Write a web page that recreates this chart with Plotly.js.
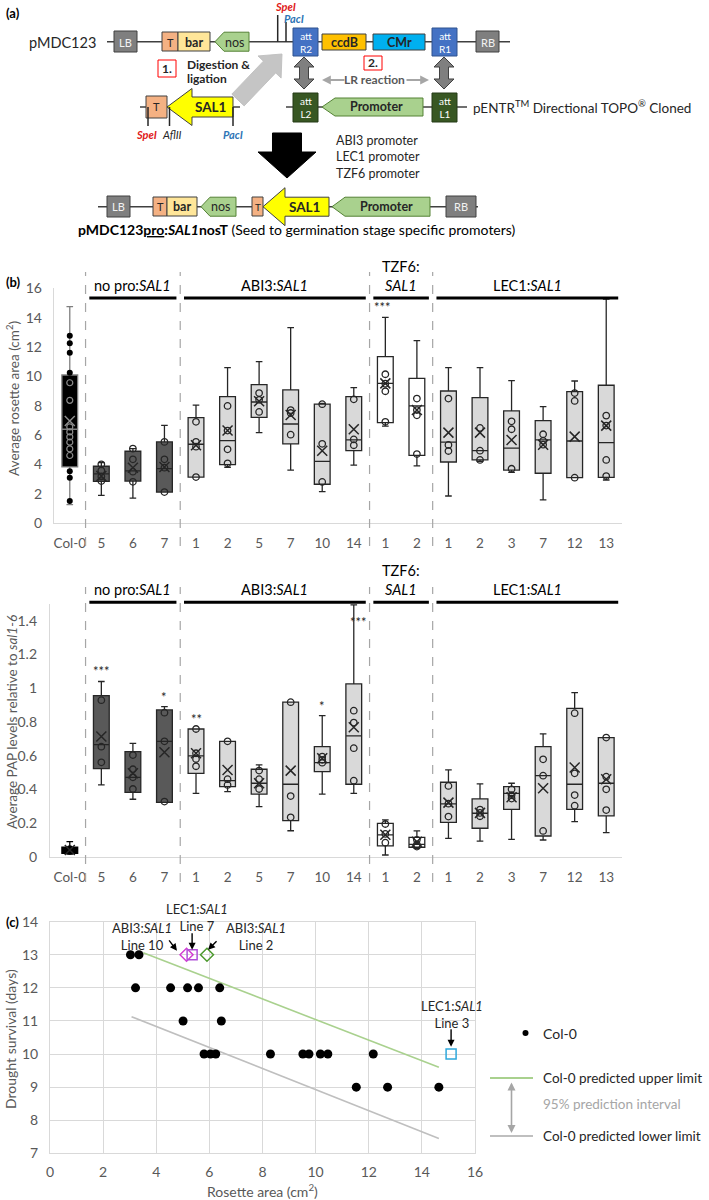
<!DOCTYPE html>
<html>
<head>
<meta charset="utf-8">
<script src="https://cdn.plot.ly/plotly-3.0.1.min.js"></script>
<style>
  body { margin: 0; background: #fff; }
  #chart { width: 709px; height: 1200px; }
</style>
</head>
<body>
<div id="chart"></div>
<script>
// ---- (b) box panels: one box per transgenic line ----
var cats  = ['Col-0', '5', '6', '7', '1', '2', '5', '7', '10', '14', '1', '2', '1', '2', '3', '7', '12', '13'];
var group = [0, 1, 1, 1, 2, 2, 2, 2, 2, 2, 3, 3, 4, 4, 4, 4, 4, 4];
var groupNames = ['', 'no pro:<i>SAL1</i>', 'ABI3:<i>SAL1</i>', 'TZF6:<br><i>SAL1</i>', 'LEC1:<i>SAL1</i>'];

// rosette area (cm2)
var areaLo   = [1.25, 1.88, 1.69, 2.11, 3.13, 3.80, 6.16, 3.61, 2.14, 3.95, 6.61, 3.89, 1.84, 4.20, 3.45, 1.57, 3.09, 2.93];
var areaQ1   = [3.82, 2.84, 2.86, 2.11, 3.13, 3.98, 7.20, 5.39, 2.64, 4.93, 6.84, 4.61, 4.16, 4.30, 3.61, 3.39, 3.09, 3.11];
var areaMed  = [6.39, 3.35, 3.55, 3.71, 5.37, 5.61, 8.25, 6.75, 4.20, 5.66, 9.52, 7.98, 5.52, 4.93, 5.11, 5.66, 5.59, 5.48];
var areaQ3   = [10.09, 3.87, 4.89, 5.53, 7.19, 8.61, 9.43, 9.07, 8.11, 8.61, 11.34, 9.86, 9.00, 8.55, 7.64, 6.98, 8.95, 9.39];
var areaHi   = [14.75, 4.12, 5.07, 6.66, 8.04, 10.59, 11.00, 13.32, 8.15, 9.23, 14.02, 12.43, 10.59, 10.59, 9.70, 7.93, 9.68, 15.27];
var areaMean = [6.95, 3.20, 3.77, 3.82, 5.30, 6.30, 8.30, 7.36, 4.93, 6.39, 9.52, 7.70, 6.16, 6.16, 5.66, 5.34, 5.89, 6.64];
var areaPts = [
  [12.77, 12.25, 11.61, 10.25, 9.56, 8.36, 6.55, 6.21, 5.87, 5.51, 5.05, 4.60, 3.52, 3.09, 1.50],
  [4.00, 3.58, 3.17, 2.86],
  [5.07, 4.34, 3.50, 2.81],
  [5.53, 4.34, 3.77, 2.11],
  [6.90, 5.53, 5.20, 3.13],
  [7.98, 6.30, 5.02, 4.07],
  [8.86, 8.40, 7.57],
  [7.70, 7.50, 6.02],
  [8.10, 5.40, 2.80],
  [8.43, 5.70, 5.30],
  [10.14, 9.50, 8.98, 6.90],
  [8.48, 7.70, 7.34, 4.70],
  [8.48, 5.32, 4.91],
  [6.48, 4.93, 4.30],
  [6.93, 6.39, 3.70],
  [6.05, 5.60, 5.34],
  [8.86, 8.32, 3.09],
  [7.32, 6.64, 4.30, 3.20]
];
var areaStars = ['', '', '', '', '', '', '', '', '', '', '***', '', '', '', '', '', '', ''];

// PAP levels relative to sal1-6
var papLo   = [0.015, 0.426, 0.341, 0.323, 0.376, 0.386, 0.297, 0.154, 0.372, 0.376, 0.010, 0.050, 0.109, 0.093, 0.103, 0.099, 0.208, 0.143];
var papQ1   = [0.020, 0.523, 0.382, 0.323, 0.495, 0.416, 0.371, 0.214, 0.505, 0.430, 0.064, 0.056, 0.204, 0.169, 0.281, 0.123, 0.281, 0.242];
var papMed  = [0.040, 0.665, 0.471, 0.685, 0.598, 0.451, 0.436, 0.430, 0.558, 0.717, 0.129, 0.073, 0.313, 0.258, 0.376, 0.481, 0.430, 0.436];
var papQ3   = [0.056, 0.956, 0.624, 0.871, 0.758, 0.685, 0.519, 0.917, 0.653, 1.026, 0.198, 0.115, 0.442, 0.343, 0.416, 0.653, 0.881, 0.707];
var papHi   = [0.089, 1.040, 0.673, 0.891, 0.758, 0.685, 0.545, 0.917, 0.837, 1.495, 0.218, 0.153, 0.515, 0.432, 0.436, 0.729, 0.974, 0.707];
var papMean = [0.040, 0.713, 0.495, 0.620, 0.614, 0.515, 0.436, 0.511, 0.584, 0.768, 0.130, 0.089, 0.321, 0.260, 0.353, 0.406, 0.529, 0.460];
var papPts = [
  [0.050, 0.040, 0.030],
  [0.929, 0.653, 0.560],
  [0.603, 0.519, 0.471, 0.402],
  [0.855, 0.685, 0.327],
  [0.758, 0.614, 0.580, 0.537],
  [0.685, 0.460, 0.426],
  [0.511, 0.460, 0.402],
  [0.917, 0.360, 0.234],
  [0.594, 0.575, 0.558],
  [0.867, 0.796, 0.644, 0.451],
  [0.194, 0.135, 0.083],
  [0.100, 0.073, 0.060],
  [0.420, 0.315, 0.238],
  [0.280, 0.260, 0.240],
  [0.400, 0.365, 0.345],
  [0.578, 0.481, 0.153],
  [0.852, 0.495, 0.366, 0.303],
  [0.707, 0.475, 0.400, 0.277]
];
var papStars = ['', '***', '', '*', '**', '', '', '', '*', '***', '', '', '', '', '', '', '', ''];

// ---- (c) drought survival vs rosette area ----
var col0Area = [3.03, 3.35, 3.22, 4.54, 5.18, 5.59, 6.39, 5.01, 6.45, 5.80, 6.04, 6.24, 8.30, 9.52, 9.75, 10.18, 10.46, 12.17, 11.53, 12.71, 14.64];
var col0Days = [13, 13, 12, 12, 12, 12, 12, 11, 11, 10, 10, 10, 10, 10, 10, 10, 10, 10, 9, 9, 9];
var upperX = [3.51, 14.64], upperY = [13.06, 9.60];
var lowerX = [3.07, 14.64], lowerY = [11.13, 7.45];
var lineNames = ['ABI3:<i>SAL1</i><br>Line 10', 'LEC1:<i>SAL1</i><br>Line 7', 'ABI3:<i>SAL1</i><br>Line 2', 'LEC1:<i>SAL1</i><br>Line 3'];
var lineArea = [5.14, 5.35, 5.91, 15.10];
var lineDays = [13, 13, 13, 10];

var W = 709, H = 1200;
var F = 'Lato, "Liberation Sans", sans-serif';
var GREY = '#595959';
function P(x) { return x / W; }
function Q(y) { return 1 - y / H; }

var shapes = [];
var annotations = [];

function poly(pts, fill, lc, lw) {
  shapes.push({
    type: 'path', xref: 'paper', yref: 'paper',
    path: 'M' + pts.map(function (p) { return P(p[0]).toFixed(5) + ',' + Q(p[1]).toFixed(5); }).join('L') + 'Z',
    fillcolor: fill, line: {color: lc || fill, width: lw === undefined ? 1 : lw}
  });
}
function rect(x0, x1, y0, y1, fill, lc) {
  shapes.push({type: 'rect', xref: 'paper', yref: 'paper', x0: P(x0), x1: P(x1), y0: Q(y1), y1: Q(y0),
    fillcolor: fill, line: {color: lc || '#404040', width: 1}});
}
function seg(x0, y0, x1, y1, color, width, dash) {
  shapes.push({type: 'line', xref: 'paper', yref: 'paper', x0: P(x0), y0: Q(y0), x1: P(x1), y1: Q(y1),
    line: {color: color, width: width, dash: dash || 'solid'}});
}
function txt(x, y, text, size, color, anchor, extra) {
  var a = {xref: 'paper', yref: 'paper', x: P(x), y: Q(y), text: text, showarrow: false,
    xanchor: anchor || 'center', yanchor: 'middle', font: {family: F, size: size || 12, color: color || '#262626'}};
  for (var k in extra || {}) a[k] = extra[k];
  annotations.push(a);
}
// gene element drawn as an arrow pointing left
function geneLeft(xTip, xEnd, yc, bodyH, headH, headL, fill, lc) {
  var b = bodyH / 2, h = headH / 2;
  poly([[xTip, yc], [xTip + headL, yc - h], [xTip + headL, yc - b], [xEnd, yc - b],
        [xEnd, yc + b], [xTip + headL, yc + b], [xTip + headL, yc + h]], fill, lc, 1);
}
// block arrow from (x0,y0) to (x1,y1); both ends when dbl
function blockArrow(x0, y0, x1, y1, shaft, headW, headL, fill, lc, dbl) {
  var dx = x1 - x0, dy = y1 - y0, len = Math.sqrt(dx * dx + dy * dy);
  var ux = dx / len, uy = dy / len, nx = -uy, ny = ux;
  function pt(bx, by, along, side) { return [bx + ux * along + nx * side, by + uy * along + ny * side]; }
  var s = shaft / 2, w = headW / 2, pts;
  if (dbl) {
    pts = [[x0, y0], pt(x0, y0, headL, w), pt(x0, y0, headL, s), pt(x1, y1, -headL, s), pt(x1, y1, -headL, w),
           [x1, y1], pt(x1, y1, -headL, -w), pt(x1, y1, -headL, -s), pt(x0, y0, headL, -s), pt(x0, y0, headL, -w)];
  } else {
    pts = [pt(x0, y0, 0, s), pt(x1, y1, -headL, s), pt(x1, y1, -headL, w), [x1, y1],
           pt(x1, y1, -headL, -w), pt(x1, y1, -headL, -s), pt(x0, y0, 0, -s)];
  }
  poly(pts, fill, lc, 1);
}

// ---- (a) cloning scheme ----
txt(4, 13, '<b>(a)</b>', 13, '#000', 'left');
var LIGHT = '#a9d18e', LIGHTL = '#548235', TCOL = '#f4b183', BAR = '#ffe699';
// pMDC123
seg(107, 41.7, 510, 41.7, '#404040', 1.5);
txt(62, 42, 'pMDC123', 14.5, '#262626');
rect(114, 137, 31, 52, '#7f7f7f'); txt(125.5, 42, 'LB', 11, '#f2f2f2');
rect(162, 178, 32, 51, TCOL); txt(170, 42, 'T', 11);
rect(178, 210, 32, 51, BAR); txt(194, 42, '<b>bar</b>', 12.5);
geneLeft(215, 249, 41.7, 19, 19, 9, LIGHT, LIGHTL); txt(234, 42, 'nos', 12.5);
seg(277.7, 15, 277.7, 41.7, '#262626', 1.5);
seg(286, 22, 286, 41.7, '#262626', 1.5);
txt(285, 6, '<b><i>SpeI</i></b>', 11, '#e02020');
txt(294, 18.5, '<b><i>PacI</i></b>', 11, '#2e75b6');
rect(293, 318, 28, 56, '#4472c4', '#2f528f'); txt(305.5, 42, 'att<br>R2', 10, '#fff');
rect(322, 366, 34, 50, '#ffc000'); txt(344, 42, '<b>ccdB</b>', 12.5);
rect(373, 425, 34, 50, '#00b0f0'); txt(399, 42, '<b>CMr</b>', 12.5);
rect(432, 457, 28, 56, '#4472c4', '#2f528f'); txt(444.5, 42, 'att<br>R1', 10, '#fff');
rect(476, 499, 31, 52, '#7f7f7f'); txt(487.5, 42, 'RB', 11, '#f2f2f2');
// step labels
rect(158, 176, 60, 77, '#fff', '#ff0000'); txt(167, 68.5, '<b>1.</b>', 12);
txt(185, 64, '<b>Digestion &amp;</b>', 12, '#262626', 'left');
txt(185, 79, '<b>ligation</b>', 12, '#262626', 'left');
blockArrow(238, 100, 282, 54, 17, 32, 18, 'rgba(191,191,191,0.9)', 'rgba(191,191,191,0.9)', false);
rect(364, 382, 56, 70, '#fff', '#ff0000'); txt(373, 63, '<b>2.</b>', 12);
blockArrow(304, 57, 304, 89, 9, 20, 10, '#7f7f7f', '#404040', true);
blockArrow(444, 57, 444, 89, 9, 20, 10, '#7f7f7f', '#404040', true);
txt(375, 80, '<b>LR reaction</b>', 12, '#595959');
annotations.push({xref: 'paper', yref: 'paper', axref: 'pixel', ayref: 'pixel', x: P(322), y: Q(80), ax: 24, ay: 0,
  text: '', showarrow: true, arrowhead: 2, arrowsize: 0.8, arrowwidth: 2.2, arrowcolor: '#a6a6a6'});
annotations.push({xref: 'paper', yref: 'paper', axref: 'pixel', ayref: 'pixel', x: P(429), y: Q(80), ax: -24, ay: 0,
  text: '', showarrow: true, arrowhead: 2, arrowsize: 0.8, arrowwidth: 2.2, arrowcolor: '#a6a6a6'});
// SAL1 insert
seg(140, 107, 240, 107, '#404040', 1.5);
rect(146, 167, 96, 118, TCOL); txt(156.5, 107, 'T', 11);
geneLeft(167, 233, 107, 20, 37, 25, '#ffff00', '#404040'); txt(210, 107, '<b>SAL1</b>', 13.5);
seg(148, 107, 148, 126, '#262626', 1.5);
seg(169.5, 107, 169.5, 126, '#262626', 1.5);
seg(233, 107, 233, 126, '#262626', 1.5);
txt(146, 134, '<b><i>SpeI</i></b>', 11, '#e02020');
txt(172, 134, '<i>AflII</i>', 11, '#262626');
txt(233, 134, '<b><i>PacI</i></b>', 11, '#2e75b6');
// pENTR clone
seg(286, 107, 467, 107, '#404040', 1.5);
rect(293, 318, 93, 122, '#385723', '#243a17'); txt(305.5, 107.5, 'att<br>L2', 10, '#fff');
geneLeft(322, 423, 107, 18, 18, 13, LIGHT, LIGHTL); txt(377, 107, '<b>Promoter</b>', 12.5);
rect(432, 457, 93, 122, '#385723', '#243a17'); txt(444.5, 107.5, 'att<br>L1', 10, '#fff');
txt(471, 107, 'pENTR<sup>TM</sup> Directional TOPO<sup>®</sup> Cloned', 13.5, '#262626', 'left');
txt(334, 140, 'ABI3 promoter', 12.5, '#262626', 'left');
txt(334, 156.5, 'LEC1 promoter', 12.5, '#262626', 'left');
txt(334, 173, 'TZF6 promoter', 12.5, '#262626', 'left');
blockArrow(287, 133, 287, 178, 29, 58, 26, '#000', '#000', false);
// final construct
seg(98, 206.7, 478, 206.7, '#404040', 1.5);
rect(107, 130, 196, 217, '#7f7f7f'); txt(118.5, 207, 'LB', 11, '#f2f2f2');
rect(153, 167, 197, 216, TCOL); txt(160, 207, 'T', 11);
rect(167, 197, 197, 216, BAR); txt(182, 207, '<b>bar</b>', 12.5);
geneLeft(201, 236, 206.7, 19, 19, 9, LIGHT, LIGHTL); txt(220, 207, 'nos', 12.5);
rect(252, 263, 197, 216, TCOL); txt(257.5, 207, 'T', 10);
geneLeft(263, 329, 206.7, 19, 38, 22, '#ffff00', '#404040'); txt(304, 207, '<b>SAL1</b>', 13.5);
geneLeft(332, 430, 206.7, 19, 19, 13, LIGHT, LIGHTL); txt(386, 207, '<b>Promoter</b>', 12.5);
rect(446, 476, 196, 217, '#7f7f7f'); txt(461, 207, 'RB', 11, '#f2f2f2');
txt(297, 230, '<b>pMDC123<u>pro</u>:<i>SAL1</i>nosT</b> (Seed to germination stage specific promoters)', 14, '#000');

// ---- (b) ----
var idx = cats.map(function (c, i) { return i; });
var fills = ['#000000', '#595959', '#d9d9d9', '#ffffff', '#d9d9d9'];
var area = {lo: areaLo, q1: areaQ1, med: areaMed, q3: areaQ3, hi: areaHi, mean: areaMean, pts: areaPts, stars: areaStars};
var pap = {lo: papLo, q1: papQ1, med: papMed, q3: papQ3, hi: papHi, mean: papMean, pts: papPts, stars: papStars};

var traces = [];
function boxPanel(st, xa, ya, col0Line, col0Inner) {
  for (var g = 0; g < 5; g++) {
    var ids = idx.filter(function (i) { return group[i] === g; });
    traces.push({
      type: 'box', xaxis: xa, yaxis: ya, x: ids,
      q1: ids.map(function (i) { return st.q1[i]; }),
      median: ids.map(function (i) { return st.med[i]; }),
      q3: ids.map(function (i) { return st.q3[i]; }),
      lowerfence: ids.map(function (i) { return st.lo[i]; }),
      upperfence: ids.map(function (i) { return st.hi[i]; }),
      boxpoints: false, width: 0.5, whiskerwidth: 0.42,
      fillcolor: fills[g], line: {color: g === 0 ? col0Line : '#262626', width: 1.3},
      showlegend: false, hoverinfo: 'y'
    });
  }
  var open = {x: [], y: []}, grey = {x: [], y: []}, solid = {x: [], y: []};
  st.pts.forEach(function (arr, i) {
    arr.forEach(function (v) {
      var dest = open;
      if (i === 0) dest = (col0Inner && v > st.q1[0] && v < st.q3[0]) ? grey : solid;
      dest.x.push(i); dest.y.push(v);
    });
  });
  traces.push({type: 'scatter', mode: 'markers', xaxis: xa, yaxis: ya, x: open.x, y: open.y, showlegend: false,
    marker: {symbol: 'circle-open', size: 6.5, color: '#262626', line: {width: 1.3}}});
  traces.push({type: 'scatter', mode: 'markers', xaxis: xa, yaxis: ya, x: grey.x, y: grey.y, showlegend: false,
    marker: {symbol: 'circle-open', size: 6, color: '#8c8c8c', line: {width: 1.2}}});
  traces.push({type: 'scatter', mode: 'markers', xaxis: xa, yaxis: ya, x: solid.x, y: solid.y, showlegend: false,
    marker: {symbol: 'circle', size: 6, color: '#000'}});
  traces.push({type: 'scatter', mode: 'markers', xaxis: xa, yaxis: ya, x: idx, y: st.mean, showlegend: false,
    marker: {symbol: 'x-thin-open', size: 10, color: idx.map(function (i) { return i === 0 && col0Inner ? '#8c8c8c' : '#262626'; }),
      line: {width: 1.5}}});
}
boxPanel(area, 'x', 'y', '#7f7f7f', true);
boxPanel(pap, 'x2', 'y2', '#000', false);

// separators, group bars and labels
var bounds = [];
for (var i = 0; i < cats.length - 1; i++) if (group[i] !== group[i + 1]) bounds.push(i + 0.5);
bounds.forEach(function (b) {
  shapes.push({type: 'line', xref: 'x', yref: 'paper', x0: b, x1: b, y0: Q(546), y1: Q(272),
    line: {color: '#a6a6a6', width: 1.2, dash: 'dash'}});
  shapes.push({type: 'line', xref: 'x2', yref: 'paper', x0: b, x1: b, y0: Q(882), y1: Q(587),
    line: {color: '#a6a6a6', width: 1.2, dash: 'dash'}});
});
[[1, 'x', 298, 296], [2, 'x2', 602.3, 600]].forEach(function (p) {
  for (var g = 1; g < 5; g++) {
    var ids = idx.filter(function (i) { return group[i] === g; });
    var a = ids[0], b = ids[ids.length - 1];
    shapes.push({type: 'line', xref: p[1], yref: 'paper', x0: a - 0.38, x1: b + 0.38, y0: Q(p[2]), y1: Q(p[2]),
      line: {color: '#000', width: 3}});
    annotations.push({xref: p[1], yref: 'paper', x: (a + b) / 2, y: Q(p[3]), text: groupNames[g], showarrow: false,
      xanchor: 'center', yanchor: 'bottom', font: {family: F, size: 14.5, color: '#000'}});
  }
});
// significance
idx.forEach(function (i) {
  if (area.stars[i]) annotations.push({xref: 'x', yref: 'y', x: i - 0.1, y: area.hi[i], text: area.stars[i], showarrow: false,
    yanchor: 'bottom', font: {family: F, size: 13, color: '#262626'}});
  if (pap.stars[i]) annotations.push({xref: 'x2', yref: 'y2', x: i + (pap.hi[i] > 1.3 ? 0.15 : 0), y: Math.min(pap.hi[i], 1.335),
    text: pap.stars[i], showarrow: false, yanchor: 'bottom', font: {family: F, size: 13, color: '#262626'}});
});
txt(4, 282, '<b>(b)</b>', 13, '#000', 'left');
txt(13, 399, 'Average rosette area (cm<sup>2</sup>)', 13.5, GREY, 'center', {textangle: -90});
txt(12, 722, 'Average PAP levels relative to <i>sal1-6</i>', 13.5, GREY, 'center', {textangle: -90});

// ---- (c) ----
traces.push({type: 'scatter', mode: 'lines', xaxis: 'x3', yaxis: 'y3', x: upperX, y: upperY, showlegend: false,
  line: {color: '#a9d18e', width: 1.6}, hoverinfo: 'skip'});
traces.push({type: 'scatter', mode: 'lines', xaxis: 'x3', yaxis: 'y3', x: lowerX, y: lowerY, showlegend: false,
  line: {color: '#bfbfbf', width: 1.6}, hoverinfo: 'skip'});
traces.push({type: 'scatter', mode: 'markers', xaxis: 'x3', yaxis: 'y3', x: col0Area, y: col0Days, showlegend: false,
  marker: {symbol: 'circle', size: 9, color: '#000'}});
var lineSym = ['diamond-open', 'square-open', 'diamond-open', 'square-open'];
var lineCol = ['#d23fd2', '#b050d8', '#4e9a2f', '#2ea8dc'];
traces.push({type: 'scatter', mode: 'markers', xaxis: 'x3', yaxis: 'y3', x: lineArea, y: lineDays, showlegend: false,
  marker: {symbol: lineSym, size: 10, color: lineCol, line: {width: 1.5}}});

// labels (page pixels) with arrows for the transgenic lines
var labPx = [[142, 936], [197, 917], [256, 936], [452, 1014]];
var tipOff = [[-0.36, 0.12, -9, -12], [0, 0.15, 0, -18], [0.04, 0.15, 10, -10], [0, 0.22, 0, -19]];
lineNames.forEach(function (n, k) {
  annotations.push({xref: 'paper', yref: 'paper', x: P(labPx[k][0]), y: Q(labPx[k][1]), text: n, showarrow: false,
    xanchor: 'center', yanchor: 'middle', font: {family: F, size: 13, color: '#262626'}, align: 'center'});
  annotations.push({xref: 'x3', yref: 'y3', x: lineArea[k] + tipOff[k][0], y: lineDays[k] + tipOff[k][1],
    ax: tipOff[k][2], ay: tipOff[k][3], text: '', showarrow: true, arrowhead: 2, arrowsize: 1, arrowwidth: 1.4, arrowcolor: '#000'});
});

// legend of panel c
shapes.push({type: 'circle', xref: 'paper', yref: 'paper', x0: P(522.5), x1: P(528.5), y0: Q(1036), y1: Q(1030),
  fillcolor: '#000', line: {color: '#000', width: 0}});
txt(541, 1033, 'Col-0', 14, '#262626', 'left');
seg(490, 1078, 533, 1078, '#a9d18e', 1.8);
txt(541, 1078, 'Col-0 predicted upper limit', 13.5, '#262626', 'left');
txt(541, 1104, '95% prediction interval', 13.5, '#a6a6a6', 'left');
seg(490, 1136, 533, 1136, '#bfbfbf', 1.8);
txt(541, 1136, 'Col-0 predicted lower limit', 13.5, '#262626', 'left');
annotations.push({xref: 'paper', yref: 'paper', axref: 'pixel', ayref: 'pixel', x: P(511.5), y: Q(1133), ax: 0, ay: -52,
  text: '', showarrow: true, arrowhead: 2, arrowside: 'end+start', arrowsize: 1, arrowwidth: 1.6, arrowcolor: '#a6a6a6'});
txt(4, 922, '<b>(c)</b>', 13, '#000', 'left');
txt(10, 1039, 'Drought survival (days)', 14, GREY, 'center', {textangle: -90});
txt(262, 1190, 'Rosette area (cm<sup>2</sup>)', 14, GREY);

var tick = {family: F, size: 13.5, color: GREY};
var layout = {
  width: W, height: H, margin: {l: 0, r: 0, t: 0, b: 0},
  paper_bgcolor: '#fff', plot_bgcolor: 'rgba(0,0,0,0)',
  boxmode: 'overlay', showlegend: false, font: {family: F},
  xaxis: {domain: [P(54), P(622)], range: [-0.5, 17.5], anchor: 'y', tickvals: idx, ticktext: cats,
    showline: true, linecolor: '#d9d9d9', linewidth: 1.2, showgrid: false, zeroline: false, ticks: '',
    tickfont: tick, ticklabelstandoff: 8, fixedrange: true},
  yaxis: {domain: [Q(523), Q(288.3)], range: [0, 16], dtick: 2, anchor: 'x',
    showline: true, linecolor: '#d9d9d9', linewidth: 1.2, showgrid: false, zeroline: false, ticks: '',
    tickfont: {family: F, size: 14, color: GREY}, ticklabelstandoff: 8},
  xaxis2: {domain: [P(50), P(622)], range: [-0.627, 17.5], anchor: 'y2', tickvals: idx, ticktext: cats,
    showline: true, linecolor: '#d9d9d9', linewidth: 1.2, showgrid: false, zeroline: false, ticks: '',
    tickfont: tick, ticklabelstandoff: 8},
  yaxis2: {domain: [Q(856.7), Q(604)], range: [0, 1.5], anchor: 'x2',
    tickvals: [0, 0.2, 0.4, 0.6, 0.8, 1, 1.2, 1.4], ticktext: ['0', '0.2', '0.4', '0.6', '0.8', '1', '1.2', '1.4'],
    showline: true, linecolor: '#d9d9d9', linewidth: 1.2, showgrid: false, zeroline: false, ticks: '',
    tickfont: {family: F, size: 14, color: GREY}, ticklabelstandoff: 9},
  xaxis3: {domain: [P(50), P(475)], range: [0, 16], dtick: 2, anchor: 'y3',
    showline: true, mirror: true, linecolor: '#d9d9d9', gridcolor: '#d9d9d9', zeroline: false, ticks: '',
    tickfont: {family: F, size: 14, color: GREY}, ticklabelstandoff: 6},
  yaxis3: {domain: [Q(1153.3), Q(921.7)], range: [7, 14], dtick: 1, anchor: 'x3',
    showline: true, mirror: true, linecolor: '#d9d9d9', gridcolor: '#d9d9d9', zeroline: false, ticks: '',
    tickfont: {family: F, size: 14, color: GREY}, ticklabelstandoff: 8},
  shapes: shapes,
  annotations: annotations
};

Plotly.newPlot('chart', traces, layout, {staticPlot: true});
</script>
</body>
</html>
